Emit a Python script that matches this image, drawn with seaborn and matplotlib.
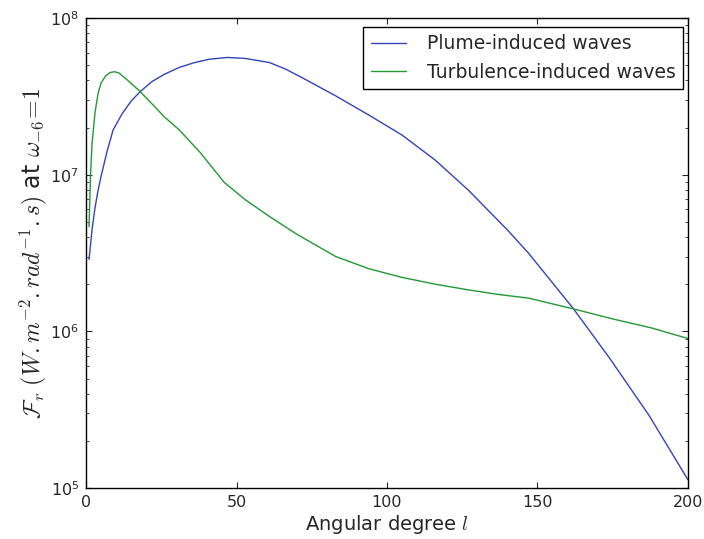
import numpy as np
import pandas as pd
import matplotlib
matplotlib.use("Agg")
import matplotlib.pyplot as plt
import seaborn as sns

# ------------------ DATA ------------------
plume_l = [1, 2, 3, 4, 5, 7, 9, 12, 15, 18, 22, 26, 31, 36, 41, 47, 53, 61, 66, 72,
           83, 94, 105, 116, 127, 140, 147, 162, 174, 187, 200]
plume_f = [2.88e6, 4.47e6, 6.17e6, 7.94e6, 9.77e6, 1.41e7, 1.93e7, 2.45e7, 2.95e7,
           3.39e7, 3.94e7, 4.37e7, 4.84e7, 5.19e7, 5.46e7, 5.60e7, 5.52e7, 5.19e7,
           4.75e7, 4.14e7, 3.18e7, 2.40e7, 1.79e7, 1.24e7, 7.98e6, 4.44e6, 3.16e6,
           1.39e6, 6.73e5, 2.92e5, 1.13e5]

turb_l = [1, 1.5, 2, 3, 4, 5, 6.5, 8, 9.5, 11, 14, 18, 22, 26, 31, 38, 46, 53, 61,
          70, 83, 94, 105, 116, 127, 137, 147, 162, 175, 188, 200]
turb_f = [4.66e6, 1.0e7, 1.58e7, 2.5e7, 3.3e7, 3.85e7, 4.27e7, 4.49e7, 4.54e7,
          4.45e7, 3.98e7, 3.39e7, 2.82e7, 2.34e7, 1.93e7, 1.38e7, 8.9e6, 6.9e6,
          5.4e6, 4.17e6, 3.0e6, 2.51e6, 2.21e6, 2.0e6, 1.84e6, 1.72e6, 1.63e6,
          1.39e6, 1.2e6, 1.05e6, 9.0e5]

labels = ["Plume-induced waves", "Turbulence-induced waves"]
colors = ["#3344bb", "#229933"]

df = pd.concat([
    pd.DataFrame({"l": plume_l, "F": plume_f, "kind": labels[0]}),
    pd.DataFrame({"l": turb_l, "F": turb_f, "kind": labels[1]}),
])

# ------------------ STYLE ------------------
sns.set_style("ticks")
plt.rcParams.update({
    "font.family": ["DejaVu Sans"],
    "mathtext.fontset": "cm",
    "xtick.direction": "in",
    "ytick.direction": "in",
    "xtick.top": True,
    "ytick.right": True,
    "xtick.major.size": 4,
    "ytick.major.size": 4,
    "ytick.minor.size": 2,
    "axes.edgecolor": "black",
    "axes.linewidth": 1.0,
    "font.size": 12,
})

fig = plt.figure(figsize=(7.04, 5.39), dpi=100)
ax = fig.add_axes([0.1222, 0.0946, 0.855, 0.872])

sns.lineplot(data=df, x="l", y="F", hue="kind", palette=colors,
             linewidth=1.0, sort=False, ax=ax)

ax.set_yscale("log")
ax.set_xlim(0, 200)
ax.set_ylim(1e5, 1e8)
ax.set_xticks([0, 50, 100, 150, 200])
ax.tick_params(axis="both", which="major", labelsize=11.5, pad=5)
ax.tick_params(axis="both", which="minor", direction="in")

ax.set_xlabel(r"Angular degree $l$", fontsize=14, labelpad=2)
ax.set_ylabel(r"$\mathcal{F}_r\ (W.m^{-2}.rad^{-1}.s)$ at $\omega_{-6}\!=\!1$",
              fontsize=17, labelpad=1)

leg = ax.legend(loc="upper right", bbox_to_anchor=(0.992, 0.981), borderaxespad=0,
                frameon=True, fancybox=False, fontsize=13.5, borderpad=0.4,
                handlelength=1.9, handletextpad=1.1)
leg.get_frame().set_edgecolor("black")
leg.get_frame().set_linewidth(1.0)
leg.get_frame().set_alpha(1.0)

fig.savefig("out.png", dpi=100)
